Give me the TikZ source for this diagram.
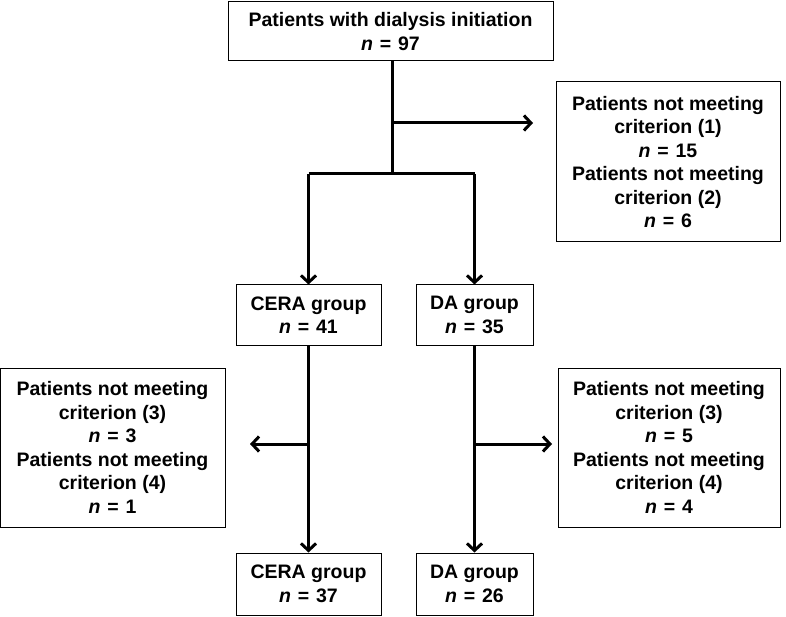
\documentclass[tikz,border=0pt]{standalone}
\usepackage{fontspec}
\setmainfont{Liberation Sans}
\usetikzlibrary{arrows.meta}
\newcommand{\nn}{\textit{n}\hspace{0.35em}=\hspace{0.35em}}
\begin{document}
\begin{tikzpicture}[x=1pt,y=-1pt,
  box/.style={draw, line width=1pt, align=center, inner sep=0pt,
    font=\bfseries\fontsize{19.5}{23.5}\selectfont},
  flow/.style={line width=3pt},
  arr/.style={flow, -{Straight Barb[length=7pt,width=15pt,line width=3pt]}}]
\useasboundingbox (0,0) rectangle (786,617);
\node[box, minimum width=325pt, minimum height=59pt] (top) at (390.5,31.5)
  {Patients with dialysis initiation\\\nn 97};
\node[box, minimum width=224pt, minimum height=160pt] (ex1) at (668,162)
  {Patients not meeting\\criterion (1)\\\nn 15\\Patients not meeting\\criterion (2)\\\nn 6};
\node[box, minimum width=145pt, minimum height=60pt] (cera1) at (308.5,315)
  {CERA group\\\nn 41};
\node[box, minimum width=117pt, minimum height=60pt] (da1) at (474.5,315)
  {DA group\\\nn 35};
\node[box, minimum width=225pt, minimum height=159pt] (ex2) at (112.5,447.5)
  {Patients not meeting\\criterion (3)\\\nn 3\\Patients not meeting\\criterion (4)\\\nn 1};
\node[box, minimum width=222pt, minimum height=159pt] (ex3) at (669,447.5)
  {Patients not meeting\\criterion (3)\\\nn 5\\Patients not meeting\\criterion (4)\\\nn 4};
\node[box, minimum width=145pt, minimum height=62pt] (cera2) at (308.5,584)
  {CERA group\\\nn 37};
\node[box, minimum width=117pt, minimum height=62pt] (da2) at (474.5,584)
  {DA group\\\nn 26};
\coordinate (s1) at (392,123);
\coordinate (t1) at (533,123);
\coordinate (sp) at (392,174);
\coordinate (sl) at (308.5,174);
\coordinate (sr) at (474.5,174);
\coordinate (b1) at (308.5,444);
\coordinate (t2) at (250,444);
\coordinate (b2) at (474.5,444);
\coordinate (t3) at (552,444);
\draw[flow] (top.south -| sp) -- (sp);
\draw[arr] (s1) -- (t1);
\draw[flow, line join=miter] (sl) -- (sr);
\draw[arr] (sl) -- (cera1.north);
\draw[arr] (sr) -- (da1.north);
\draw[arr] (cera1.south) -- (cera2.north);
\draw[arr] (da1.south) -- (da2.north);
\draw[arr] (b1) -- (t2);
\draw[arr] (b2) -- (t3);
\end{tikzpicture}
\end{document}
